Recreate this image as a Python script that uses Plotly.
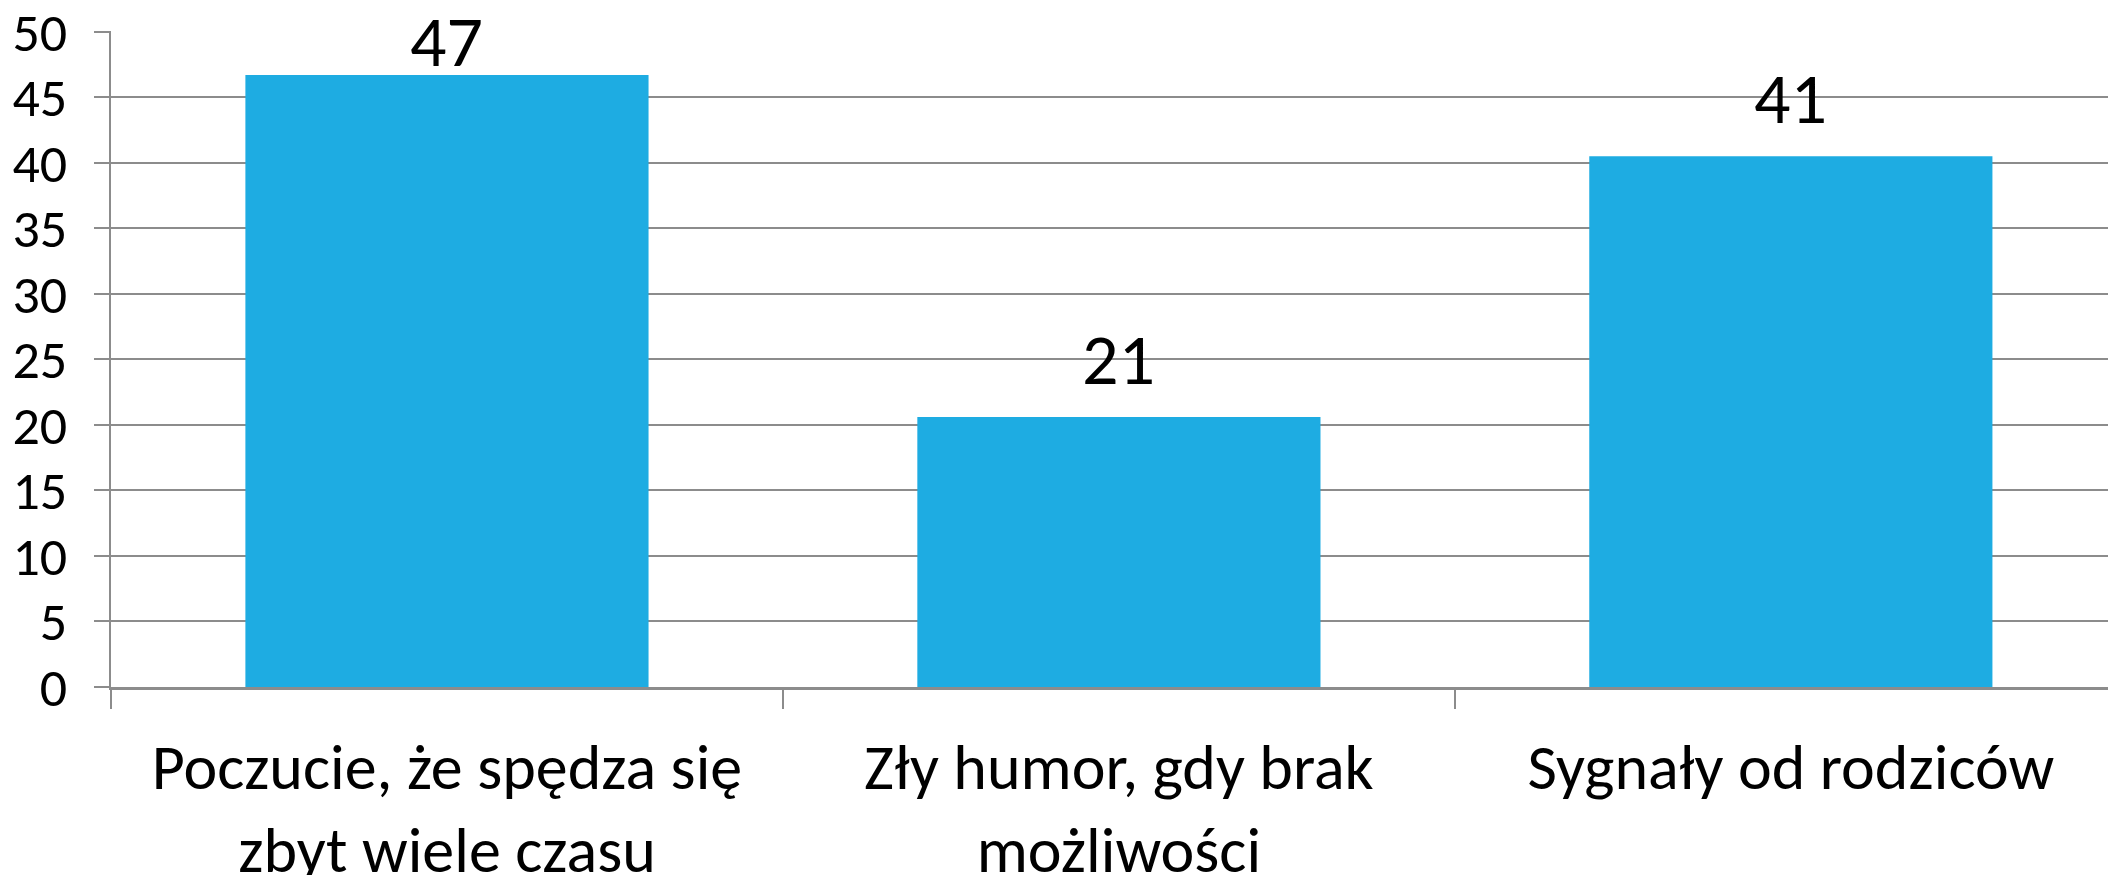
import plotly.graph_objects as go

categories = ["Poczucie, że spędza się<br>zbyt wiele czasu",
              "Zły humor, gdy brak<br>możliwości",
              "Sygnały od rodziców"]
values = [46.7, 20.6, 40.5]
labels = ["47", "21", "41"]
y_ticks = [0, 5, 10, 15, 20, 25, 30, 35, 40, 45, 50]

FONT = "Carlito, Lato, sans-serif"
GRID = "#8c8c8c"
label_shift = [-12, 12, 12]

fig = go.Figure(go.Bar(
    x=categories, y=values,
    marker=dict(color="#1eace2", line=dict(width=0)),
    hoverinfo="x+y",
))

for cat, val, lab, sh in zip(categories, values, labels, label_shift):
    fig.add_annotation(
        x=cat, y=val, text=lab, showarrow=False,
        xanchor="center", yanchor="bottom", yshift=sh,
        font=dict(family=FONT, size=72, color="#000000"),
    )

fig.update_layout(
    width=2108, height=875,
    margin=dict(l=111, r=0, t=31, b=188, pad=0, autoexpand=False),
    paper_bgcolor="white", plot_bgcolor="white",
    bargap=0.4, showlegend=False,
    font=dict(family=FONT, color="#000000"),
)
fig.update_xaxes(
    type="category", range=[-0.5, 2.472], automargin=False,
    showline=True, linecolor=GRID, linewidth=3,
    ticks="outside", tickson="boundaries", ticklen=19, tickwidth=2, tickcolor=GRID,
    tickfont=dict(family=FONT, size=64, color="#000000"),
    ticklabelstandoff=22, ticklabeloverflow="allow",
    showgrid=False, zeroline=False,
)
fig.update_yaxes(
    range=[0, 50.05], tickvals=y_ticks, automargin=False,
    showline=True, linecolor=GRID, linewidth=2,
    ticks="outside", ticklen=15, tickwidth=2, tickcolor=GRID,
    tickfont=dict(family=FONT, size=54, color="#000000"),
    ticklabelstandoff=16, ticklabeloverflow="allow",
    showgrid=True, gridcolor=GRID, gridwidth=2,
    zeroline=False,
)

fig.write_html("out.html", config={"displayModeBar": False},
               post_script="document.body.style.margin='0';")
